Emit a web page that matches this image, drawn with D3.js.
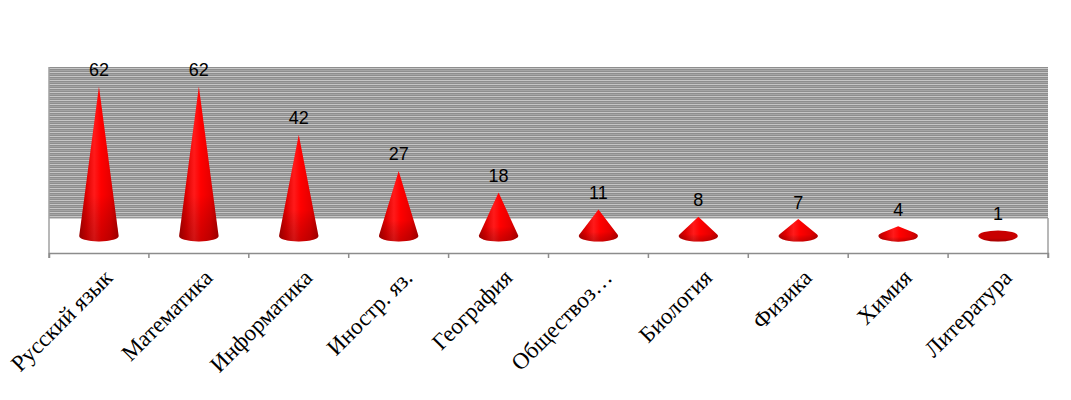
<!DOCTYPE html>
<html><head><meta charset="utf-8">
<script src="https://cdn.jsdelivr.net/npm/d3@7"></script>
<style>html,body{margin:0;padding:0;background:#fff;}svg{display:block;}</style>
</head><body>
<script>
const categories = ["Русский язык","Математика","Информатика","Иностр. яз.","География","Обществоз…","Биология","Физика","Химия","Литература"];
const values = [62,62,42,27,18,11,8,7,4,1];

const W = 1071, H = 400;
const svg = d3.select("body").append("svg").attr("width", W).attr("height", H);
const defs = svg.append("defs");

// hatch pattern for back wall
const pat = defs.append("pattern").attr("id","hatch").attr("patternUnits","userSpaceOnUse")
  .attr("width",8).attr("height",4);
pat.append("rect").attr("width",8).attr("height",4).attr("fill","#8e8e8e");
pat.append("rect").attr("y",0).attr("width",8).attr("height",1).attr("fill","#c6c6c6");
pat.append("rect").attr("y",2).attr("width",8).attr("height",1).attr("fill","#a4a4a4");

// cone gradient
const g = defs.append("linearGradient").attr("id","cone").attr("x1","0").attr("x2","1").attr("y1","0").attr("y2","0");
[["0%","#b00000"],["18%","#e00000"],["38%","#ff1a1a"],["55%","#ff0000"],["80%","#e60000"],["100%","#b80000"]]
  .forEach(([o,c])=>g.append("stop").attr("offset",o).attr("stop-color",c));
const gb = defs.append("linearGradient").attr("id","shade").attr("x1","0").attr("x2","0").attr("y1","0").attr("y2","1");
[["0%","#000","0"],["70%","#000","0"],["100%","#400000","0.25"]]
  .forEach(([o,c,a])=>gb.append("stop").attr("offset",o).attr("stop-color",c).attr("stop-opacity",a));

const left = 49, right = 1048, wallTop = 67, floorTop = 218, axisY = 253, baseY = 236;
const x = d3.scaleBand().domain(categories).range([left, right]).padding(0);
const y = d3.scaleLinear().domain([0, 62]).range([baseY, 86.5]);

// back wall
svg.append("rect").attr("x",left).attr("y",wallTop).attr("width",right-left).attr("height",floorTop-wallTop)
  .attr("fill","url(#hatch)");
// floor outline
svg.append("line").attr("x1",left).attr("x2",right).attr("y1",floorTop).attr("y2",floorTop).attr("stroke","#a0a0a0").attr("stroke-width",1);
svg.append("line").attr("x1",right).attr("x2",right).attr("y1",floorTop).attr("y2",axisY).attr("stroke","#a0a0a0").attr("stroke-width",1.5);
svg.append("line").attr("x1",left).attr("x2",left).attr("y1",wallTop).attr("y2",axisY).attr("stroke","#a0a0a0").attr("stroke-width",1.5);

// x axis
const axis = d3.axisBottom(x).tickSize(5).tickFormat("");
const ax = svg.append("g").attr("transform",`translate(0,${axisY})`).call(axis);
ax.select(".domain").attr("stroke","#8c8c8c").attr("stroke-width",1.5);
ax.selectAll(".tick").remove();
const bounds = x.domain().map(d=>x(d)).concat([right]);
ax.selectAll("line.tk").data(bounds).enter().append("line").attr("class","tk")
  .attr("x1",d=>d).attr("x2",d=>d).attr("y1",0).attr("y2",5).attr("stroke","#8c8c8c").attr("stroke-width",1.5);

// cones
const r = 19.7, e = 5.5;
function conePath(h){
  if (h <= e) {
    return `M${-r},0 A${r},${e} 0 1,1 ${r},0 A${r},${e} 0 1,1 ${-r},0 Z`;
  }
  const yt = -e*e/h, xt = r*Math.sqrt(1 - (e*e)/(h*h));
  return `M${-xt},${yt} L0,${-h} L${xt},${yt} A${r},${e} 0 1,1 ${-xt},${yt} Z`;
}
const cones = svg.append("g").selectAll("g").data(categories).enter().append("g")
  .attr("transform",(d)=>`translate(${x(d)+x.bandwidth()/2},${baseY})`);
cones.append("path").attr("d",(d,i)=>conePath(baseY - y(values[i]))).attr("fill",(d,i)=>values[i] < 2 ? "#c80000" : "url(#cone)");
cones.append("path").attr("d",(d,i)=>conePath(baseY - y(values[i]))).attr("fill","url(#shade)");

// value labels
svg.append("g").selectAll("text").data(categories).enter().append("text")
  .attr("x",d=>x(d)+x.bandwidth()/2).attr("y",(d,i)=>Math.min(y(values[i]), baseY - e) - 10.5)
  .attr("text-anchor","middle").attr("font-family","'Liberation Sans', Arial, sans-serif").attr("font-size",18)
  .attr("fill","#000").text((d,i)=>values[i]);

// category labels
svg.append("g").selectAll("text").data(categories).enter().append("text")
  .attr("transform",d=>`translate(${x(d)+x.bandwidth()/2+4},${268}) rotate(-45)`)
  .attr("text-anchor","end").attr("dy","0.68em")
  .attr("font-family","'Liberation Serif', 'Times New Roman', serif").attr("font-size",23)
  .attr("fill","#000").text(d=>d);
</script>
</body></html>
